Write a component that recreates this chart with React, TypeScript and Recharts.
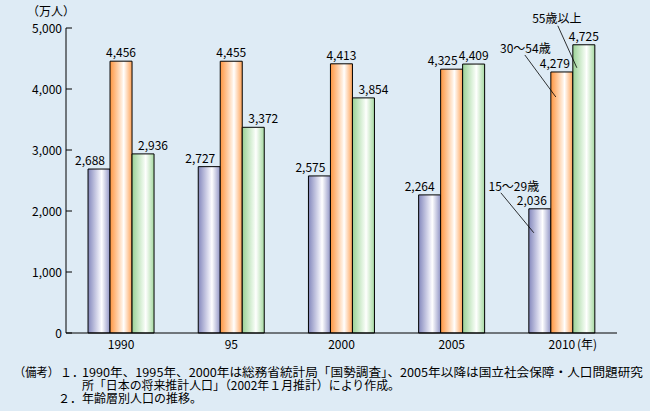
import React from 'react';
import { BarChart, Bar, XAxis, YAxis, LabelList } from 'recharts';

const years = ['1990', '95', '2000', '2005', '2010'];
const age15to29 = [2688, 2727, 2575, 2264, 2036];
const age30to54 = [4456, 4455, 4413, 4325, 4279];
const age55plus = [2936, 3372, 3854, 4409, 4725];
const yTicks = [0, 1000, 2000, 3000, 4000, 5000];
const seriesNames = ['15～29歳', '30～54歳', '55歳以上'];

const notes = [
  '1990年、1995年、2000年は総務省統計局「国勢調査」、2005年以降は国立社会保障・人口問題研究',
  '所「日本の将来推計人口」（2002年１月推計）により作成。',
  '年齢層別人口の推移。',
];

const data = years.map((year, i) => ({
  year,
  young: age15to29[i],
  mid: age30to54[i],
  old: age55plus[i],
}));

// nudges so the value labels don't collide
const labelDx = {
  young: [-9, -9, -9, -10, -8],
  mid: [0, 0, 0, -9, -7],
  old: [10, 10, 10, 0, 0],
};

// leader line + name, relative to the last bar's left/top
const callouts = {
  young: { tx: -15, ty: -17.5, x1: -28, y1: -16, x2: 5, y2: 24 },
  mid: { tx: -25.5, ty: -18.5, x1: -26, y1: -17, x2: 5, y2: 25 },
  old: { tx: -16, ty: -21.5, x1: -15, y1: -19, x2: 4, y2: 23 },
};

const fmt = (v: number) => v.toLocaleString('en-US');

const makeLabel = (key: 'young' | 'mid' | 'old', name: string) => (props: any) => {
  const x = Number(props.x);
  const top = Number(props.y);
  const w = Number(props.width);
  const idx = props.index;
  const c = callouts[key];
  return (
    <g>
      <text x={x + w / 2 + labelDx[key][idx]} y={top - 4} textAnchor="middle" fontSize={12} fill="#000">
        {fmt(Number(props.value))}
      </text>
      {idx === years.length - 1 && (
        <g>
          <line x1={x + c.x1} y1={top + c.y1} x2={x + c.x2} y2={top + c.y2} stroke="#000" strokeWidth={0.8} />
          <text x={x + c.tx} y={top + c.ty} textAnchor="middle" fontSize={12} fill="#000">
            {name}
          </text>
        </g>
      )}
    </g>
  );
};

const YTick = (props: any) => {
  const { x, y, payload } = props;
  return (
    <g>
      <text x={x} y={y} dy={4.5} textAnchor="end" fontSize={12} fill="#000">
        {fmt(payload.value)}
      </text>
      <line x1={x + 4} x2={x + 10} y1={y} y2={y} stroke="#000" />
    </g>
  );
};

const XTick = (props: any) => {
  const { x, y, payload } = props;
  const last = payload.value === years[years.length - 1];
  return (
    <g>
      <text x={x} y={y + 14} textAnchor="middle" fontSize={12} fill="#000">
        {payload.value}
      </text>
      {last && (
        <text x={x + 15} y={y + 14} textAnchor="start" fontSize={12} fill="#000">
          (年)
        </text>
      )}
    </g>
  );
};

const Grad = ({ id, edge, edge2, mid }: { id: string; edge: string; edge2: string; mid: string }) => (
  <linearGradient id={id} x1="0" y1="0" x2="1" y2="0">
    <stop offset="0%" stopColor={edge} />
    <stop offset="55%" stopColor={mid} />
    <stop offset="62%" stopColor="#ffffff" />
    <stop offset="100%" stopColor={edge2} />
  </linearGradient>
);

export default function App() {
  return (
    <div
      style={{
        position: 'absolute',
        left: 0,
        top: 0,
        width: 650,
        height: 411,
        background: '#deebf5',
        fontFamily: '"Noto Sans CJK JP", "Noto Sans", sans-serif',
      }}
    >
      <svg width={80} height={24} style={{ position: 'absolute', left: 0, top: 0 }}>
        <text x={27} y={16} fontSize={12} fill="#000">
          （万人）
        </text>
      </svg>
      <BarChart
        width={650}
        height={356}
        data={data}
        margin={{ top: 28, right: 33, bottom: 6, left: 0 }}
        barGap={0}
        barCategoryGap="20%"
      >
        <defs>
          <Grad id="gBlue" edge="#8488bd" edge2="#9094c5" mid="#f0f0f9" />
          <Grad id="gOrange" edge="#ff9640" edge2="#ffa357" mid="#fff0e2" />
          <Grad id="gGreen" edge="#9ad295" edge2="#a6d9a1" mid="#f0faef" />
        </defs>
        <XAxis
          dataKey="year"
          height={17}
          axisLine={{ stroke: '#000' }}
          tickLine={false}
          tickSize={0}
          tick={<XTick />}
          interval={0}
        />
        <YAxis
          domain={[0, 5000]}
          ticks={yTicks}
          width={66}
          axisLine={{ stroke: '#000' }}
          tickLine={false}
          tickSize={0}
          tickMargin={4}
          tick={<YTick />}
          interval={0}
        />
        <Bar dataKey="young" fill="url(#gBlue)" stroke="#000" strokeWidth={1} isAnimationActive={false}>
          <LabelList dataKey="young" content={makeLabel('young', seriesNames[0])} />
        </Bar>
        <Bar dataKey="mid" fill="url(#gOrange)" stroke="#000" strokeWidth={1} isAnimationActive={false}>
          <LabelList dataKey="mid" content={makeLabel('mid', seriesNames[1])} />
        </Bar>
        <Bar dataKey="old" fill="url(#gGreen)" stroke="#000" strokeWidth={1} isAnimationActive={false}>
          <LabelList dataKey="old" content={makeLabel('old', seriesNames[2])} />
        </Bar>
      </BarChart>
      <svg width={650} height={55} style={{ position: 'absolute', left: 0, top: 356 }}>
        <g fontSize={12} fill="#000">
          <text x={14} y={21} textLength={45} lengthAdjust="spacingAndGlyphs">（備考）</text>
          <text x={60} y={21}>１．</text>
          <text x={82} y={21} textLength={561} lengthAdjust="spacingAndGlyphs">
            {notes[0]}
          </text>
          <text x={82} y={34} textLength={318} lengthAdjust="spacingAndGlyphs">
            {notes[1]}
          </text>
          <text x={58} y={47}>２．</text>
          <text x={82} y={47}>{notes[2]}</text>
        </g>
      </svg>
    </div>
  );
}
